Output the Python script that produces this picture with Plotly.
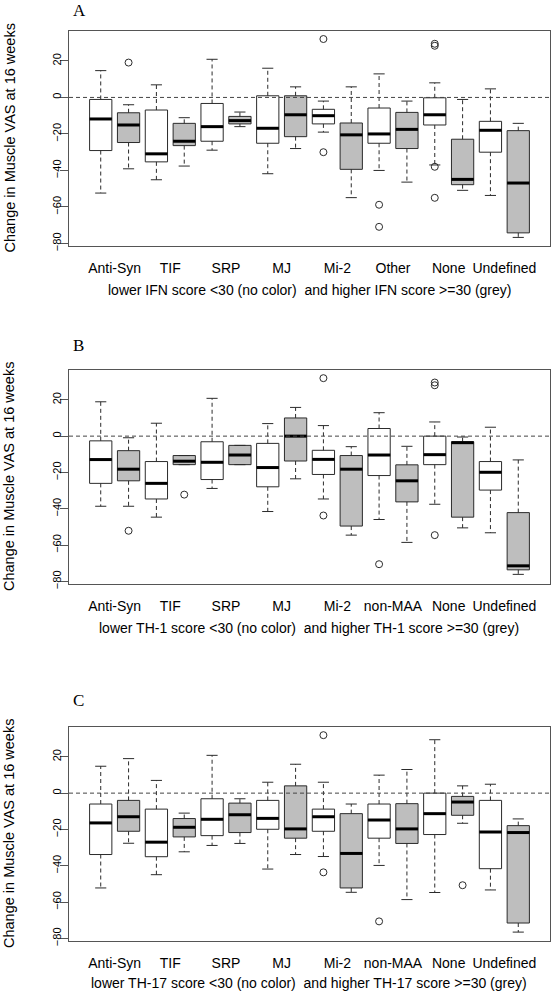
import plotly.graph_objects as go

W, H = 554, 992

# ---------------- data ----------------
cats_ifn = ["Anti-Syn", "TIF", "SRP", "MJ", "Mi-2", "Other", "None", "Undefined"]
cats_th = ["Anti-Syn", "TIF", "SRP", "MJ", "Mi-2", "non-MAA", "None", "Undefined"]

# Panel A  (IFN score)  low = white, high = grey
a_low_lower = [-52.4, -45.1, -28.9, -41.8, -19.0, -40.0, -37.0, -53.7]
a_low_q1 = [-29.1, -35.3, -24.0, -25.1, -14.5, -25.1, -15.1, -30.0]
a_low_med = [-11.8, -30.9, -16.0, -16.9, -10.0, -20.0, -9.5, -18.0]
a_low_q3 = [-1.1, -6.9, -3.3, 0.9, -6.5, -5.8, -0.2, -13.1]
a_low_upper = [14.7, 6.9, 20.9, 16.0, -2.0, 12.9, 8.0, 4.7]
a_low_out = [[], [], [], [], [32.0, -30.0], [-58.8, -70.9], [29.4, 28.3, -38.0, -55.0], []]

a_high_lower = [-39.1, -37.6, -16.0, -28.0, -54.9, -46.4, -50.9, -76.7]
a_high_q1 = [-24.7, -26.4, -14.5, -21.5, -39.4, -28.0, -47.8, -74.2]
a_high_med = [-15.1, -24.0, -12.7, -9.5, -20.5, -17.5, -44.9, -46.9]
a_high_q3 = [-8.4, -14.2, -10.4, 0.9, -14.0, -8.2, -22.9, -18.2]
a_high_upper = [-4.0, -11.1, -8.0, 5.8, 5.8, -2.0, -1.1, -14.2]
a_high_out = [[19.1], [], [], [], [], [], [], []]

# Panel B  (TH-1 score)
b_low_lower = [-38.6, -44.6, -28.8, -41.5, -34.6, -45.9, -37.5, -53.2]
b_low_q1 = [-26.0, -34.6, -23.9, -27.9, -21.1, -21.7, -15.7, -29.7]
b_low_med = [-12.9, -26.0, -14.4, -17.3, -12.8, -10.4, -10.2, -19.9]
b_low_q3 = [-2.6, -14.0, -3.1, -4.0, -7.8, 4.2, 0.0, -14.0]
b_low_upper = [18.9, 7.1, 20.8, 6.9, 5.8, 12.9, 7.8, 4.9]
b_low_out = [[], [], [], [], [31.9, -43.7], [-70.5], [29.5, 28.0, -54.5], []]

b_high_lower = [-38.6, -15.7, -15.7, -23.5, -54.5, -58.5, -50.5, -76.1]
b_high_q1 = [-24.6, -15.7, -15.7, -13.7, -49.5, -36.2, -44.6, -73.6]
b_high_med = [-18.2, -13.8, -10.4, 0.0, -18.2, -24.6, -3.6, -71.4]
b_high_q3 = [-8.0, -10.7, -5.1, 10.0, -10.7, -15.8, -3.1, -42.1]
b_high_upper = [-0.9, -10.7, -5.1, 15.8, -5.8, -5.6, -0.5, -13.1]
b_high_out = [[-52.1], [-32.2], [], [], [], [], [], []]

# Panel C  (TH-17 score)
c_low_lower = [-52.2, -44.9, -28.8, -41.8, -34.9, -39.8, -54.7, -53.3]
c_low_q1 = [-33.8, -35.0, -23.4, -19.9, -21.0, -24.8, -22.8, -41.6]
c_low_med = [-16.4, -27.0, -14.4, -13.9, -13.0, -14.8, -11.3, -21.4]
c_low_q3 = [-6.0, -8.8, -3.1, -4.0, -8.8, -6.0, 0.0, -4.0]
c_low_upper = [14.8, 7.0, 20.8, 6.0, 6.0, 9.9, 29.4, 4.9]
c_low_out = [[], [], [], [], [31.9, -43.6], [-70.6], [], []]

c_high_lower = [-27.6, -32.3, -27.7, -33.8, -54.6, -58.6, -16.6, -76.5]
c_high_q1 = [-21.0, -24.1, -21.7, -24.8, -52.2, -27.7, -12.2, -71.5]
c_high_med = [-13.0, -18.8, -11.9, -19.7, -33.2, -19.7, -4.9, -21.7]
c_high_q3 = [-4.0, -14.0, -5.5, 4.0, -11.3, -5.8, -1.8, -17.9]
c_high_upper = [19.0, -11.0, -3.1, 15.9, -6.0, 13.0, 4.0, -14.2]
c_high_out = [[], [], [], [], [], [], [-50.7], []]

y_ticks = [-80, -60, -40, -20, 0, 20]

panel_letters = ["A", "B", "C"]
x_titles = [
    "lower IFN score <30 (no color)\u00a0 and higher IFN score >=30 (grey)",
    "lower TH-1 score <30 (no color)\u00a0 and higher TH-1 score >=30 (grey)",
    "lower TH-17 score <30 (no color)\u00a0 and higher TH-17 score >=30 (grey)",
]
y_title = "Change in Muscle VAS at 16 weeks"

panels = [
    dict(cats=cats_ifn,
         low=(a_low_lower, a_low_q1, a_low_med, a_low_q3, a_low_upper, a_low_out),
         high=(a_high_lower, a_high_q1, a_high_med, a_high_q3, a_high_upper, a_high_out)),
    dict(cats=cats_th,
         low=(b_low_lower, b_low_q1, b_low_med, b_low_q3, b_low_upper, b_low_out),
         high=(b_high_lower, b_high_q1, b_high_med, b_high_q3, b_high_upper, b_high_out)),
    dict(cats=cats_th,
         low=(c_low_lower, c_low_q1, c_low_med, c_low_q3, c_low_upper, c_low_out),
         high=(c_high_lower, c_high_q1, c_high_med, c_high_q3, c_high_upper, c_high_out)),
]

# ---------------- layout geometry (pixels) ----------------
PLOT_LEFT, PLOT_RIGHT = 69, 550
panel_px = [(31, 246), (370, 584), (727, 941)]   # top, bottom of each plot region
letter_y = [10.5, 345, 700]
xtitle_y = [290, 628, 982.5]

FONT = "Liberation Sans, Arial, sans-serif"
SERIF = "Liberation Serif, Times New Roman, serif"
BOX_LINE = "#2b2b2b"
FRAME = "#555555"
GREY = "#bebebe"
BOXW = 0.8


def px(xp):
    return xp / W


def py(yp):
    return 1 - yp / H


fig = go.Figure()
layout = dict(
    width=W, height=H, margin=dict(l=0, r=0, t=0, b=0, autoexpand=False),
    paper_bgcolor="white", plot_bgcolor="white",
    showlegend=False, boxmode="overlay",
    font=dict(family=FONT, color="black"),
)
annotations = []
shapes = []

for i, p in enumerate(panels):
    k = "" if i == 0 else str(i + 1)
    xa, ya = "x" + k, "y" + k
    n = len(p["cats"])
    for g, (key, fill) in enumerate([("low", "white"), ("high", GREY)]):
        lw, q1, med, q3, uw, outs = p[key]
        pos = [2 * j + 1 + g for j in range(n)]
        fig.add_trace(go.Box(
            x=pos, q1=q1, median=med, q3=q3, lowerfence=q1, upperfence=q3,
            orientation="v", width=BOXW, whiskerwidth=0, boxpoints=False,
            fillcolor=fill, line=dict(color=BOX_LINE, width=1),
            xaxis=xa, yaxis=ya, hoverinfo="skip"))
        # dashed whiskers
        wx, wy = [], []
        for j in range(n):
            wx += [pos[j], pos[j], None, pos[j], pos[j], None]
            wy += [q3[j], uw[j], None, q1[j], lw[j], None]
        fig.add_trace(go.Scatter(x=wx, y=wy, mode="lines",
                                 line=dict(color=BOX_LINE, width=1, dash="4px,3px"),
                                 xaxis=xa, yaxis=ya, hoverinfo="skip"))
        # staples
        sx, sy = [], []
        for j in range(n):
            sx += [pos[j] - BOXW / 4, pos[j] + BOXW / 4, None,
                   pos[j] - BOXW / 4, pos[j] + BOXW / 4, None]
            sy += [uw[j], uw[j], None, lw[j], lw[j], None]
        fig.add_trace(go.Scatter(x=sx, y=sy, mode="lines",
                                 line=dict(color=BOX_LINE, width=1),
                                 xaxis=xa, yaxis=ya, hoverinfo="skip"))
        # thick medians
        mx, my = [], []
        for j in range(n):
            mx += [pos[j] - BOXW / 2, pos[j] + BOXW / 2, None]
            my += [med[j], med[j], None]
        fig.add_trace(go.Scatter(x=mx, y=my, mode="lines",
                                 line=dict(color="black", width=3),
                                 xaxis=xa, yaxis=ya, hoverinfo="skip"))
        # outliers
        ox, oy = [], []
        for j in range(n):
            for v in outs[j]:
                ox.append(pos[j])
                oy.append(v)
        fig.add_trace(go.Scatter(x=ox, y=oy, mode="markers",
                                 marker=dict(symbol="circle-open", size=7,
                                             color=BOX_LINE, line=dict(width=1)),
                                 xaxis=xa, yaxis=ya, hoverinfo="skip"))

    top, bot = panel_px[i]
    layout["xaxis" + k] = dict(
        domain=[px(PLOT_LEFT), px(PLOT_RIGHT)], anchor=ya, automargin=False,
        range=[-0.14, 2 * n + 1.14],
        tickmode="array", tickvals=[2 * j + 1.5 for j in range(n)],
        ticktext=p["cats"], ticks="", ticklabelstandoff=9,
        tickfont=dict(size=14, family=FONT),
        showline=True, mirror=True, linecolor=FRAME, linewidth=1,
        showgrid=False, zeroline=False, fixedrange=True)
    layout["yaxis" + k] = dict(
        domain=[py(bot), py(top)], anchor=xa, automargin=False,
        range=[-81.4, 36.4],
        tickmode="array", tickvals=y_ticks,
        ticks="outside", ticklen=8, tickcolor=FRAME, tickwidth=1,
        tickangle=-90, ticklabelstandoff=-5,
        tickfont=dict(size=11, family=FONT),
        showline=True, mirror=True, linecolor=FRAME, linewidth=1,
        showgrid=False, zeroline=False, fixedrange=True)

    shapes.append(dict(type="line", xref=xa + " domain", yref=ya,
                       x0=0, x1=1, y0=0, y1=0, layer="above",
                       line=dict(color="#444444", width=1, dash="4px,3px")))

    annotations.append(dict(text=panel_letters[i], xref="paper", yref="paper",
                            x=px(71), y=py(letter_y[i]), xanchor="left", yanchor="middle",
                            showarrow=False, font=dict(family=SERIF, size=17, color="black")))
    annotations.append(dict(text=x_titles[i], xref="paper", yref="paper",
                            x=px((PLOT_LEFT + PLOT_RIGHT) / 2), y=py(xtitle_y[i]),
                            xanchor="center", yanchor="middle", showarrow=False,
                            font=dict(family=FONT, size=14, color="black")))
    annotations.append(dict(text=y_title, xref="paper", yref="paper",
                            x=px(9), y=py((top + bot) / 2), textangle=-90,
                            xanchor="center", yanchor="middle", showarrow=False,
                            font=dict(family=FONT, size=14.5, color="black")))

layout["annotations"] = annotations
layout["shapes"] = shapes
fig.update_layout(**layout)
fig.write_html("out.html",
               config={"displayModeBar": False, "staticPlot": True},
               post_script="document.body.style.margin='0px';"
                           "document.body.style.padding='0px';"
                           "document.documentElement.style.overflow='hidden';")
